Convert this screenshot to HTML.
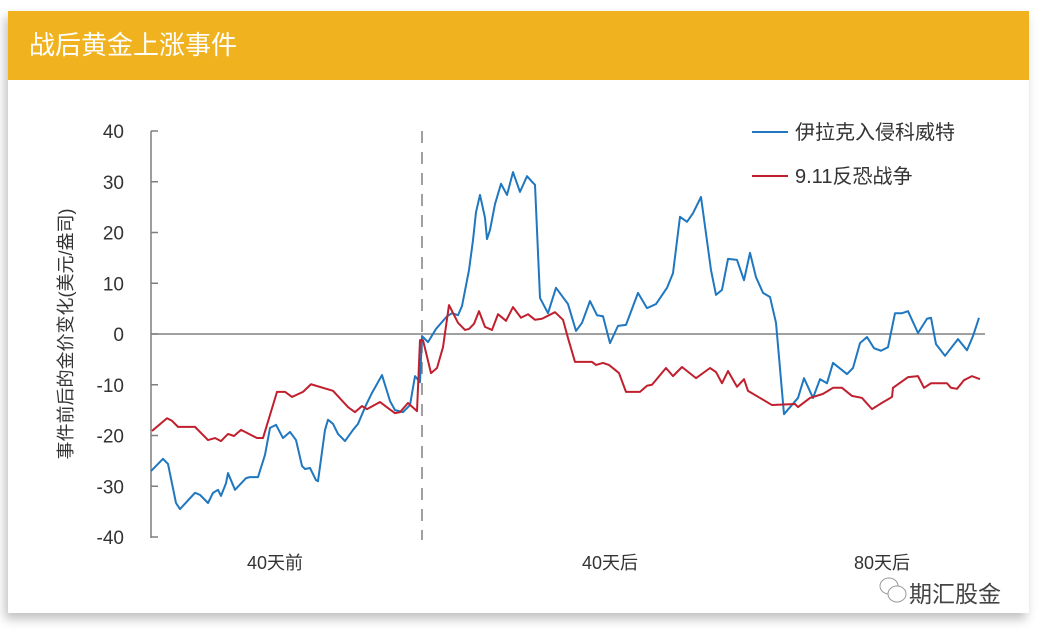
<!DOCTYPE html>
<html><head><meta charset="utf-8"><style>
body{margin:0;width:1046px;height:638px;background:#fff;overflow:hidden;font-family:"Liberation Sans","Noto Sans CJK SC",sans-serif}
#card{position:absolute;left:8px;top:11px;width:1021px;height:602px;background:#fff;box-shadow:-3px 6px 10px rgba(0,0,0,0.25)}
#hdr{position:absolute;left:0;top:0;width:1021px;height:69px;background:#f0b31f;color:#fff;font-size:26px;line-height:69px;padding-left:21px;box-sizing:border-box}
svg{position:absolute;left:0;top:0}
</style></head><body>
<div id="card"><div id="hdr">战后黄金上涨事件</div></div>
<svg id="chart" width="1046" height="638"></svg>
<script>
const blueDays=[-54.2,-51.8,-50.8,-49.2,-48.4,-45.4,-44.4,-42.8,-41.8,-40.8,-40.2,-39.2,-38.8,-37.4,-35.2,-34.4,-32.8,-31.4,-30.4,-29.2,-27.8,-26.4,-25.2,-24.0,-23.4,-22.4,-21.2,-20.8,-19.4,-18.8,-17.8,-16.8,-15.4,-13.8,-12.8,-11.2,-10.0,-8.0,-6.4,-5.4,-3.8,-2.4,-1.4,-0.4,0,1.2,2.8,5.0,6.0,7.2,8.0,9.4,10.2,10.8,11.6,12.6,13.0,13.6,14.6,15.8,17.0,18.2,19.6,21.0,22.2,22.6,23.6,25.2,26.8,29.2,30.8,32.0,33.6,35.0,36.2,37.6,39.2,40.8,43.2,45.0,46.8,49.0,50.2,51.6,53.0,54.2,55.8,57.8,58.8,60.0,61.2,63.0,64.4,65.6,66.8,68.2,69.6,70.8,72.4,75.2,76.4,78.2,79.6,81.0,82.2,85.0,86.2,87.6,89.0,90.4,91.8,93.2,94.6,96.0,97.2,99.2,101.0,101.8,102.8,104.6,107.2,109.0,110.2,111.4];
const blueVals=[-27.0,-24.6,-25.6,-33.3,-34.5,-31.3,-31.7,-33.3,-31.3,-30.7,-31.9,-29.4,-27.4,-30.7,-28.4,-28.2,-28.2,-23.8,-18.5,-17.9,-20.5,-19.3,-20.9,-26.0,-26.6,-26.4,-28.8,-29.0,-18.9,-16.9,-17.7,-19.7,-21.1,-18.9,-17.7,-14.0,-11.6,-8.1,-13.2,-15.0,-15.4,-14.0,-8.3,-9.5,-0.4,-1.6,1.0,3.5,4.1,3.7,5.5,12.6,18.5,24.0,27.4,22.9,18.7,20.5,25.6,29.6,27.4,31.9,28.0,31.1,29.8,29.4,7.1,4.1,9.1,5.9,0.6,2.2,6.5,3.7,3.5,-1.8,1.6,1.8,8.1,5.1,5.9,9.1,12.0,23.1,22.1,23.8,27.0,12.6,7.7,8.7,14.8,14.6,10.6,16.0,11.2,8.1,7.3,2.2,-15.8,-12.6,-8.7,-12.6,-8.9,-9.7,-5.7,-7.9,-6.7,-1.8,-0.6,-2.8,-3.3,-2.6,4.1,4.1,4.5,0.2,3.0,3.2,-2.0,-4.3,-1.0,-3.2,-0.4,3.2];
const redDays=[-54.0,-51.0,-50.0,-48.8,-45.4,-42.8,-41.4,-40.2,-38.8,-37.6,-36.2,-33.0,-31.8,-29.0,-27.4,-26.0,-23.8,-22.2,-17.8,-14.8,-13.4,-12.0,-11.0,-8.4,-6.8,-5.4,-4.4,-2.8,-1.0,-0.4,0.2,1.8,3.0,4.2,5.4,7.2,8.6,9.4,10.4,11.4,12.6,14.0,15.2,16.8,18.2,19.8,21.2,22.6,24.0,26.6,28.2,29.2,30.6,34.0,34.8,36.2,37.4,39.4,40.8,43.6,45.0,46.0,48.8,50.2,52.0,54.8,57.6,58.8,60.0,61.2,63.0,64.4,65.2,67.6,70.0,74.6,75.2,77.6,80.2,82.2,84.0,86.0,88.0,90.0,91.6,94.0,94.2,97.2,99.2,100.4,101.8,105.0,105.8,107.0,108.4,110.0,111.6];
const redVals=[-19.1,-16.6,-17.1,-18.3,-18.3,-20.9,-20.5,-21.1,-19.7,-20.1,-18.9,-20.5,-20.5,-11.4,-11.4,-12.4,-11.4,-9.9,-11.2,-14.4,-15.4,-14.2,-14.8,-13.4,-14.6,-15.6,-15.4,-13.6,-15.2,-1.2,-1.2,-7.7,-6.7,-2.6,5.7,2.2,0.8,1.0,2.0,4.5,1.4,0.8,3.9,2.6,5.3,3.2,3.9,2.8,3.0,4.3,2.8,-0.8,-5.5,-5.5,-6.1,-5.7,-6.1,-7.7,-11.4,-11.4,-10.2,-10.0,-6.7,-8.3,-6.5,-8.7,-6.7,-7.5,-9.7,-7.3,-10.4,-8.9,-11.2,-12.6,-14.0,-13.8,-14.4,-12.6,-11.8,-10.6,-10.6,-12.2,-12.6,-14.8,-13.8,-12.4,-10.6,-8.5,-8.3,-10.6,-9.7,-9.7,-10.6,-10.8,-9.1,-8.3,-8.9];
const yTicks=[40,30,20,10,0,-10,-20,-30,-40];
const xLabels=["40天前","40天后","80天后"];
const xLabelDays=[-29.4,37.6,92.0];
const seriesNames=["伊拉克入侵科威特","9.11反恐战争"];

const NS="http://www.w3.org/2000/svg";
const svg=document.getElementById('chart');
const X=d=>422+d*5;
const Y=v=>334-v*5.075;
function mk(t,a,p){const e=document.createElementNS(NS,t);for(const k in a)e.setAttribute(k,a[k]);(p||svg).appendChild(e);return e;}
const F='"Liberation Sans","Noto Sans CJK SC",sans-serif';
let ax=mk('line',{x1:151,y1:131,x2:151,y2:538,stroke:'#7f7f7f','stroke-width':1.5});

yTicks.forEach(v=>{
 let t=mk('line',{x1:151,x2:158,y1:Y(v),y2:Y(v),stroke:'#7f7f7f','stroke-width':1.5});
 
 let l=mk('text',{x:124,y:Y(v)+7,'text-anchor':'end','font-size':19,fill:'#333','font-family':F});
 l.textContent=v;
});
let zl=mk('line',{x1:151,x2:985,y1:Y(0),y2:Y(0),stroke:'#808080','stroke-width':1.5});

let dl=mk('line',{x1:X(0),x2:X(0),y1:131,y2:540,stroke:'#808080','stroke-width':1.5,'stroke-dasharray':'12,9'});

xLabels.forEach((s,i)=>{
 let l=mk('text',{x:X(xLabelDays[i]),y:569,'text-anchor':'middle','font-size':18,fill:'#333','font-family':F});
 l.textContent=s;
});
let yt=mk('text',{x:0,y:0,'text-anchor':'middle','font-size':18,fill:'#333','font-family':F,transform:'translate(72,334) rotate(-90)'});
yt.textContent='事件前后的金价变化(美元/盎司)';
function line(days,vals,col,name){
 let p=mk('polyline',{points:days.map((d,i)=>X(d)+','+Y(vals[i])).join(' '),fill:'none',stroke:col,'stroke-width':2,'stroke-linejoin':'round'});
 
}
line(blueDays,blueVals,'#1f77c0','series-iraq-kuwait');
line(redDays,redVals,'#c0202e','series-911');
['#1f77c0','#c0202e'].forEach((c,i)=>{
 let g=mk('g',{});
 mk('line',{x1:752,x2:788,y1:132+i*44,y2:132+i*44,stroke:c,'stroke-width':2},g);
 let t=mk('text',{x:795,y:139+i*44,'font-size':20,fill:'#333','font-family':F},g);t.textContent=seriesNames[i];
});
let wm=mk('g',{});
mk('ellipse',{cx:889,cy:586,rx:9,ry:8,fill:'none',stroke:'#999','stroke-width':1},wm);
mk('ellipse',{cx:897,cy:594,rx:9,ry:8,fill:'#fff',stroke:'#999','stroke-width':1},wm);
let wt=mk('text',{x:909,y:602,'font-size':23,fill:'#444','font-family':F},wm);wt.textContent='期汇股金';
</script>
</body></html>
